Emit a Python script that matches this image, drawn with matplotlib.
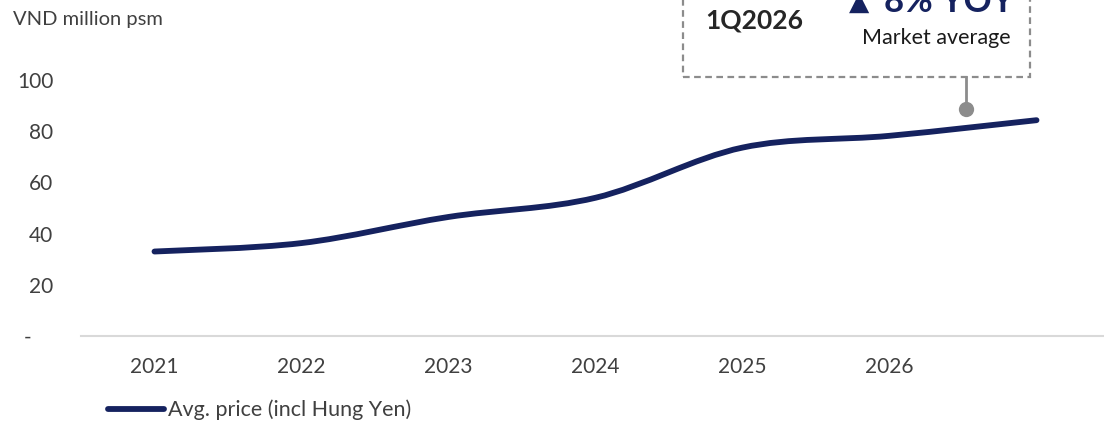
import matplotlib
matplotlib.use("Agg")
import matplotlib.pyplot as plt
from matplotlib.path import Path
from matplotlib.patches import PathPatch, Rectangle
from matplotlib.lines import Line2D
import numpy as np

plt.rcParams['font.family'] = ['Lato', 'DejaVu Sans']

# ---- data ----
categories = ["2021", "2022", "2023", "2024", "2025", "2026", ""]
avg_price = [33.0, 36.3, 46.5, 54.0, 73.6, 78.2, 84.3]
series_name = "Avg. price (incl Hung Yen)"
y_ticks = [0, 20, 40, 60, 80, 100]
y_labels = ["-    ", "20", "40", "60", "80", "100"]
unit_label = "VND million psm"
callout_period = "1Q2026"
callout_change = "8% YOY"
callout_note = "Market average"

NAVY = "#15225F"
GRAY_TXT = "#404040"

W, H = 1104, 422
fig = plt.figure(figsize=(W / 100, H / 100), dpi=100)

def fx(px):
    return px / W

def fy(py):
    return 1 - py / H

# axes: x from 81 to 1110 px, y zero at 336 px, 100 units = 256 px
ax_left, ax_right = 81, 1110
y0_px, y100_px = 336, 80
ymax = 120
ax_h = (y0_px - y100_px) * ymax / 100
ax = fig.add_axes([fx(ax_left), fy(y0_px), (ax_right - ax_left) / W, ax_h / H])
ax.set_xlim(-0.5, len(categories) - 0.5)
ax.set_ylim(0, ymax)

# smooth (Catmull-Rom as Bezier) line through data points
xs = np.arange(len(avg_price), dtype=float)
ys = np.array(avg_price, dtype=float)
pts = np.column_stack([xs, ys])
verts = [tuple(pts[0])]
codes = [Path.MOVETO]
n = len(pts)
for i in range(n - 1):
    p0 = pts[i - 1] if i > 0 else pts[i]
    p1 = pts[i]
    p2 = pts[i + 1]
    p3 = pts[i + 2] if i + 2 < n else pts[i + 1]
    c1 = p1 + (p2 - p0) / 6.0
    c2 = p2 - (p3 - p1) / 6.0
    verts += [tuple(c1), tuple(c2), tuple(p2)]
    codes += [Path.CURVE4] * 3
patch = PathPatch(Path(verts, codes), facecolor="none", edgecolor=NAVY,
                  lw=4.2, capstyle="round", joinstyle="round", clip_on=False)
ax.add_patch(patch)

# axes styling
for s in ["top", "right", "left"]:
    ax.spines[s].set_visible(False)
ax.spines["bottom"].set_color("#D9D9D9")
ax.spines["bottom"].set_linewidth(1.5)
ax.set_xticks(xs)
ax.set_xticklabels(categories)
ax.set_yticks(y_ticks)
ax.set_yticklabels(y_labels)
ax.tick_params(axis="x", length=0, pad=15, labelsize=15, labelcolor=GRAY_TXT)
ax.tick_params(axis="y", length=0, pad=20, labelsize=15, labelcolor=GRAY_TXT)
ax.patch.set_alpha(0)

# unit label
fig.text(fx(13), fy(20), unit_label, ha="left", va="center", fontsize=14.5, color=GRAY_TXT)

# legend
handle = Line2D([0], [0], color=NAVY, lw=4.2, solid_capstyle="round")
fig.legend([handle], [series_name], loc="center left",
           bbox_to_anchor=(fx(108), fy(410)), frameon=False, fontsize=15.5,
           handlelength=2.6, handletextpad=0.2, borderpad=0, borderaxespad=0,
           labelcolor=GRAY_TXT)

# callout box (top cropped)
box = Rectangle((fx(683), fy(77)), fx(1030) - fx(683), fy(-40) - fy(77),
                transform=fig.transFigure, fill=False, edgecolor="#8C8C8C",
                lw=1.6, ls=(0, (3, 2)), clip_on=False)
fig.add_artist(box)
fig.add_artist(Line2D([fx(966), fx(966)], [fy(77), fy(109)], transform=fig.transFigure,
                      color="#8C8C8C", lw=2))
fig.add_artist(Line2D([fx(966)], [fy(109)], transform=fig.transFigure, marker="o",
                      markersize=11, color="#8C8C8C", markeredgewidth=0))

fig.text(fx(705), fy(28), callout_period, ha="left", va="baseline", fontsize=19,
         fontweight="bold", color="#262626")
fig.text(fx(849), fy(10), "\u25B2", ha="left", va="baseline", fontsize=19,
         color=NAVY, family="DejaVu Sans")
fig.text(fx(884), fy(12), callout_change, ha="left", va="baseline", fontsize=25,
         fontweight="bold", color=NAVY)
fig.text(fx(936), fy(38), callout_note, ha="center", va="center", fontsize=15.5,
         color="#1A1A1A")

fig.savefig("out.png", dpi=100)
